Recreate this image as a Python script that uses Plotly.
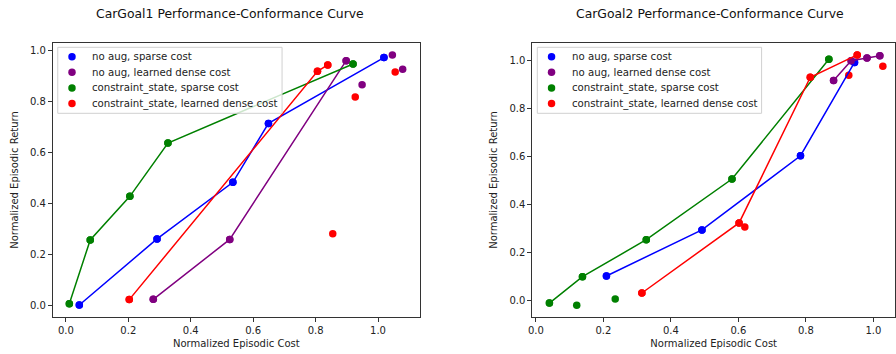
import plotly.graph_objects as go

# ---------------- data ----------------
series_names = ["no aug, sparse cost", "no aug, learned dense cost",
                "constraint_state, sparse cost", "constraint_state, learned dense cost"]
series_colors = ["blue", "purple", "green", "red"]

# CarGoal1
g1_blue_x = [0.043, 0.292, 0.535, 0.649, 1.019]
g1_blue_y = [0.003, 0.262, 0.484, 0.715, 0.973]
g1_blue_front = [0, 1, 2, 3, 4]

g1_purple_x = [0.280, 0.525, 0.898, 0.949, 1.046, 1.079]
g1_purple_y = [0.025, 0.260, 0.961, 0.866, 0.983, 0.927]
g1_purple_front = [0, 1, 2]

g1_green_x = [0.011, 0.078, 0.205, 0.327, 0.920]
g1_green_y = [0.008, 0.258, 0.429, 0.638, 0.948]
g1_green_front = [0, 1, 2, 3, 4]

g1_red_x = [0.203, 0.806, 0.839, 1.055, 0.927, 0.855]
g1_red_y = [0.024, 0.919, 0.944, 0.916, 0.818, 0.282]
g1_red_front = [0, 1, 2]

# CarGoal2
g2_blue_x = [0.209, 0.492, 0.784, 0.944]
g2_blue_y = [0.103, 0.295, 0.604, 0.993]
g2_blue_front = [0, 1, 2, 3]

g2_purple_x = [0.882, 0.934, 0.981, 1.019]
g2_purple_y = [0.918, 1.000, 1.011, 1.021]
g2_purple_front = [0, 1, 2, 3]

g2_green_x = [0.040, 0.138, 0.327, 0.581, 0.868, 0.121, 0.235]
g2_green_y = [-0.010, 0.100, 0.254, 0.507, 1.006, -0.019, 0.007]
g2_green_front = [0, 1, 2, 3, 4]

g2_red_x = [0.314, 0.602, 0.619, 0.813, 0.952, 0.927, 1.028]
g2_red_y = [0.032, 0.324, 0.307, 0.931, 1.024, 0.939, 0.977]
g2_red_front = [0, 1, 3, 4]

titles = ["CarGoal1 Performance-Conformance Curve", "CarGoal2 Performance-Conformance Curve"]
x_title = "Normalized Episodic Cost"
y_title = "Normalized Episodic Return"

panels = [
    [(g1_blue_x, g1_blue_y, g1_blue_front), (g1_purple_x, g1_purple_y, g1_purple_front),
     (g1_green_x, g1_green_y, g1_green_front), (g1_red_x, g1_red_y, g1_red_front)],
    [(g2_blue_x, g2_blue_y, g2_blue_front), (g2_purple_x, g2_purple_y, g2_purple_front),
     (g2_green_x, g2_green_y, g2_green_front), (g2_red_x, g2_red_y, g2_red_front)],
]

# ---------------- figure ----------------
W, H = 896, 354
FONT = "DejaVu Sans"
MS = 7.5
fig = go.Figure()

axis_ids = [("x", "y"), ("x2", "y2")]

for p, series in enumerate(panels):
    xa, ya = axis_ids[p]
    # scatter of all points (drawn below)
    for (xs, ys, front), name, col in zip(series, series_names, series_colors):
        fig.add_trace(go.Scatter(x=xs, y=ys, mode="markers", name=name,
                                 marker=dict(color=col, size=MS, line=dict(width=0)),
                                 xaxis=xa, yaxis=ya, showlegend=False))
    # frontier lines with markers (drawn on top)
    for (xs, ys, front), name, col in zip(series, series_names, series_colors):
        fx = [xs[i] for i in front]
        fy = [ys[i] for i in front]
        fig.add_trace(go.Scatter(x=fx, y=fy, mode="lines+markers", name=name,
                                 line=dict(color=col, width=1.5),
                                 marker=dict(color=col, size=MS, line=dict(width=0)),
                                 xaxis=xa, yaxis=ya, showlegend=False))

ydom = [1 - 316.7 / H, 1 - 43.3 / H]
common_axis = dict(showgrid=False, zeroline=False, showline=True, mirror=True,
                   linecolor="#333", linewidth=1, ticks="outside", ticklen=4,
                   tickwidth=1, tickcolor="#333", dtick=0.2, tick0=0, tickformat=".1f",
                   tickfont=dict(family=FONT, size=10, color="#222"))

fig.update_layout(
    width=W, height=H, margin=dict(l=0, r=0, t=0, b=0),
    paper_bgcolor="white", plot_bgcolor="white",
    font=dict(family=FONT, size=10, color="#222"),
    showlegend=False,
    xaxis=dict(domain=[49 / W, 417.7 / W], range=[-0.042, 1.134], anchor="y",
               title=dict(text=x_title, standoff=5, font=dict(size=10)), **common_axis),
    yaxis=dict(domain=ydom, range=[-0.043, 1.029], anchor="x",
               title=dict(text=y_title, standoff=9, font=dict(size=10)), **common_axis),
    xaxis2=dict(domain=[530.7 / W, 895 / W], range=[-0.0106, 1.064], anchor="y2",
                title=dict(text=x_title, standoff=5, font=dict(size=10)), **common_axis),
    yaxis2=dict(domain=ydom, range=[-0.0667, 1.0725], anchor="x2",
                title=dict(text=y_title, standoff=9, font=dict(size=10)), **common_axis),
)

# titles
title_x = [226.7 / W, 709 / W]
for t, tx in zip(titles, title_x):
    fig.add_annotation(text=t, x=tx, y=1 - 13.5 / H, xref="paper", yref="paper",
                       xanchor="center", yanchor="middle", showarrow=False,
                       font=dict(family=FONT, size=12.4, color="#111"))

# legends (matplotlib-style boxes), pixel placement converted to paper units
legend_boxes = [(54, 279.3), (535.7, 761)]
box_top, box_bot = 47.3, 113.3
item_y0, item_dy = 56.7, 15.6
for (bx0, bx1) in legend_boxes:
    fig.add_shape(type="rect", xref="paper", yref="paper",
                  x0=bx0 / W, x1=bx1 / W, y0=1 - box_bot / H, y1=1 - box_top / H,
                  line=dict(color="#d0d0d0", width=1), fillcolor="rgba(255,255,255,0.8)",
                  layer="above")
    mx = bx0 + 14.3
    tx = bx0 + 32.7
    for k, (name, col) in enumerate(zip(series_names, series_colors)):
        yy = item_y0 + k * item_dy
        r = MS / 2
        fig.add_shape(type="circle", xref="paper", yref="paper",
                      x0=(mx - r) / W, x1=(mx + r) / W,
                      y0=1 - (yy + r) / H, y1=1 - (yy - r) / H,
                      line=dict(width=0), fillcolor=col, layer="above")
        fig.add_annotation(text=name, x=tx / W, y=1 - yy / H, xref="paper", yref="paper",
                           xanchor="left", yanchor="middle", showarrow=False,
                           font=dict(family=FONT, size=10.2, color="#222"))

fig.write_html("out.html")
